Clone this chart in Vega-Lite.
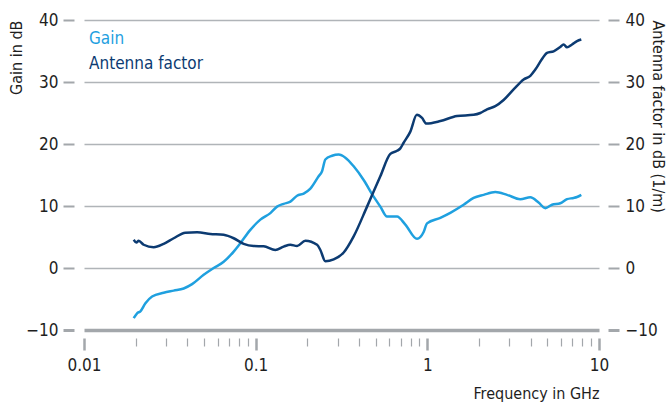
{
  "$schema": "https://vega.github.io/schema/vega-lite/v6.json",
  "width": 515,
  "height": 310,
  "autosize": {"type": "none"},
  "padding": {"left": 84, "top": 20, "right": 73, "bottom": 73},
  "background": "white",
  "config": {
    "view": {"stroke": null},
    "font": "DejaVu Sans Condensed, Roboto, sans-serif",
    "axis": {
      "labelFont": "DejaVu Sans Condensed, Roboto, sans-serif",
      "titleFont": "DejaVu Sans Condensed, Roboto, sans-serif",
      "labelColor": "#1e1e1e",
      "titleColor": "#1e1e1e",
      "titleFontWeight": "normal",
      "labelFontSize": 17,
      "titleFontSize": 16,
      "domain": false
    },
    "legend": {"labelFont": "DejaVu Sans Condensed, Roboto, sans-serif"}
  },
  "datasets": {
    "gain": [
      {"f": 0.01948, "v": -8.1, "s": "Gain"},
      {"f": 0.02038, "v": -7.3, "s": "Gain"},
      {"f": 0.02131, "v": -7.0, "s": "Gain"},
      {"f": 0.02279, "v": -5.7, "s": "Gain"},
      {"f": 0.02493, "v": -4.6, "s": "Gain"},
      {"f": 0.02912, "v": -4.0, "s": "Gain"},
      {"f": 0.0333, "v": -3.65, "s": "Gain"},
      {"f": 0.03808, "v": -3.3, "s": "Gain"},
      {"f": 0.04262, "v": -2.6, "s": "Gain"},
      {"f": 0.0498, "v": -1.1, "s": "Gain"},
      {"f": 0.05693, "v": 0.0, "s": "Gain"},
      {"f": 0.06511, "v": 1.0, "s": "Gain"},
      {"f": 0.07446, "v": 2.65, "s": "Gain"},
      {"f": 0.08145, "v": 4.0, "s": "Gain"},
      {"f": 0.09313, "v": 6.15, "s": "Gain"},
      {"f": 0.1065, "v": 7.8, "s": "Gain"},
      {"f": 0.1218, "v": 8.85, "s": "Gain"},
      {"f": 0.1332, "v": 9.9, "s": "Gain"},
      {"f": 0.1456, "v": 10.35, "s": "Gain"},
      {"f": 0.1593, "v": 10.7, "s": "Gain"},
      {"f": 0.1742, "v": 11.65, "s": "Gain"},
      {"f": 0.1904, "v": 12.0, "s": "Gain"},
      {"f": 0.2083, "v": 12.8, "s": "Gain"},
      {"f": 0.2327, "v": 14.8, "s": "Gain"},
      {"f": 0.2436, "v": 15.6, "s": "Gain"},
      {"f": 0.2546, "v": 17.5, "s": "Gain"},
      {"f": 0.2786, "v": 18.1, "s": "Gain"},
      {"f": 0.3044, "v": 18.3, "s": "Gain"},
      {"f": 0.3331, "v": 17.8, "s": "Gain"},
      {"f": 0.3723, "v": 16.4, "s": "Gain"},
      {"f": 0.4256, "v": 14.2, "s": "Gain"},
      {"f": 0.4868, "v": 11.5, "s": "Gain"},
      {"f": 0.5323, "v": 9.9, "s": "Gain"},
      {"f": 0.5825, "v": 8.3, "s": "Gain"},
      {"f": 0.6661, "v": 8.3, "s": "Gain"},
      {"f": 0.7446, "v": 7.0, "s": "Gain"},
      {"f": 0.871, "v": 4.7, "s": "Gain"},
      {"f": 0.9517, "v": 5.8, "s": "Gain"},
      {"f": 0.996, "v": 7.2, "s": "Gain"},
      {"f": 1.191, "v": 8.1, "s": "Gain"},
      {"f": 1.361, "v": 8.9, "s": "Gain"},
      {"f": 1.627, "v": 10.2, "s": "Gain"},
      {"f": 1.861, "v": 11.3, "s": "Gain"},
      {"f": 2.128, "v": 11.8, "s": "Gain"},
      {"f": 2.489, "v": 12.25, "s": "Gain"},
      {"f": 2.912, "v": 11.8, "s": "Gain"},
      {"f": 3.48, "v": 11.1, "s": "Gain"},
      {"f": 3.981, "v": 11.4, "s": "Gain"},
      {"f": 4.447, "v": 10.55, "s": "Gain"},
      {"f": 4.866, "v": 9.65, "s": "Gain"},
      {"f": 5.323, "v": 10.2, "s": "Gain"},
      {"f": 5.951, "v": 10.45, "s": "Gain"},
      {"f": 6.511, "v": 11.1, "s": "Gain"},
      {"f": 7.114, "v": 11.3, "s": "Gain"},
      {"f": 7.446, "v": 11.45, "s": "Gain"},
      {"f": 7.886, "v": 11.8, "s": "Gain"}
    ],
    "af": [
      {"f": 0.01948, "v": 4.55, "s": "Antenna factor"},
      {"f": 0.02019, "v": 4.1, "s": "Antenna factor"},
      {"f": 0.02083, "v": 4.4, "s": "Antenna factor"},
      {"f": 0.02227, "v": 3.75, "s": "Antenna factor"},
      {"f": 0.02546, "v": 3.35, "s": "Antenna factor"},
      {"f": 0.02912, "v": 3.9, "s": "Antenna factor"},
      {"f": 0.0333, "v": 4.8, "s": "Antenna factor"},
      {"f": 0.03896, "v": 5.7, "s": "Antenna factor"},
      {"f": 0.04558, "v": 5.75, "s": "Antenna factor"},
      {"f": 0.05446, "v": 5.5, "s": "Antenna factor"},
      {"f": 0.06511, "v": 5.35, "s": "Antenna factor"},
      {"f": 0.07446, "v": 4.8, "s": "Antenna factor"},
      {"f": 0.08514, "v": 3.9, "s": "Antenna factor"},
      {"f": 0.09736, "v": 3.55, "s": "Antenna factor"},
      {"f": 0.1113, "v": 3.5, "s": "Antenna factor"},
      {"f": 0.1302, "v": 2.9, "s": "Antenna factor"},
      {"f": 0.1456, "v": 3.45, "s": "Antenna factor"},
      {"f": 0.1593, "v": 3.75, "s": "Antenna factor"},
      {"f": 0.1742, "v": 3.55, "s": "Antenna factor"},
      {"f": 0.1948, "v": 4.4, "s": "Antenna factor"},
      {"f": 0.2279, "v": 3.75, "s": "Antenna factor"},
      {"f": 0.2382, "v": 2.9, "s": "Antenna factor"},
      {"f": 0.2546, "v": 1.1, "s": "Antenna factor"},
      {"f": 0.2847, "v": 1.4, "s": "Antenna factor"},
      {"f": 0.3256, "v": 2.5, "s": "Antenna factor"},
      {"f": 0.3723, "v": 5.1, "s": "Antenna factor"},
      {"f": 0.4455, "v": 9.9, "s": "Antenna factor"},
      {"f": 0.5323, "v": 14.8, "s": "Antenna factor"},
      {"f": 0.6088, "v": 18.4, "s": "Antenna factor"},
      {"f": 0.6661, "v": 18.9, "s": "Antenna factor"},
      {"f": 0.6962, "v": 19.3, "s": "Antenna factor"},
      {"f": 0.7278, "v": 20.2, "s": "Antenna factor"},
      {"f": 0.7962, "v": 22.0, "s": "Antenna factor"},
      {"f": 0.8687, "v": 24.7, "s": "Antenna factor"},
      {"f": 0.9313, "v": 24.2, "s": "Antenna factor"},
      {"f": 0.9867, "v": 23.3, "s": "Antenna factor"},
      {"f": 1.191, "v": 23.7, "s": "Antenna factor"},
      {"f": 1.489, "v": 24.5, "s": "Antenna factor"},
      {"f": 1.861, "v": 24.7, "s": "Antenna factor"},
      {"f": 2.035, "v": 25.0, "s": "Antenna factor"},
      {"f": 2.227, "v": 25.6, "s": "Antenna factor"},
      {"f": 2.489, "v": 26.1, "s": "Antenna factor"},
      {"f": 2.782, "v": 27.1, "s": "Antenna factor"},
      {"f": 3.181, "v": 28.8, "s": "Antenna factor"},
      {"f": 3.638, "v": 30.4, "s": "Antenna factor"},
      {"f": 3.981, "v": 31.0, "s": "Antenna factor"},
      {"f": 4.256, "v": 32.0, "s": "Antenna factor"},
      {"f": 4.656, "v": 33.7, "s": "Antenna factor"},
      {"f": 4.98, "v": 34.7, "s": "Antenna factor"},
      {"f": 5.441, "v": 34.95, "s": "Antenna factor"},
      {"f": 5.951, "v": 35.65, "s": "Antenna factor"},
      {"f": 6.221, "v": 36.05, "s": "Antenna factor"},
      {"f": 6.511, "v": 35.6, "s": "Antenna factor"},
      {"f": 6.963, "v": 36.05, "s": "Antenna factor"},
      {"f": 7.446, "v": 36.6, "s": "Antenna factor"},
      {"f": 7.886, "v": 36.85, "s": "Antenna factor"}
    ]
  },
  "encoding": {
    "x": {
      "field": "f",
      "type": "quantitative",
      "scale": {"type": "log", "domain": [0.01, 10], "nice": false},
      "axis": {
        "orient": "bottom",
        "title": "Frequency in GHz",
        "titleAnchor": "end",
        "titlePadding": 12,
        "grid": false,
        "offset": 8,
        "values": [0.01, 0.02, 0.03, 0.04, 0.05, 0.06, 0.07, 0.08, 0.09, 0.1, 0.2, 0.3, 0.4, 0.5, 0.6, 0.7, 0.8, 0.9, 1, 2, 3, 4, 5, 6, 7, 8, 9, 10],
        "format": "~g",
        "labelExpr": "abs(log(datum.value)/LN10 - round(log(datum.value)/LN10)) < 0.000001 ? datum.label : ''",
        "tickColor": "#a3a7ab",
        "tickSize": {"condition": {"test": "abs(log(datum.value)/LN10 - round(log(datum.value)/LN10)) < 0.000001", "value": 12}, "value": 8},
        "tickWidth": {"condition": {"test": "abs(log(datum.value)/LN10 - round(log(datum.value)/LN10)) < 0.000001", "value": 2.5}, "value": 1.2},
        "labelPadding": 7,
        "labelFlush": false
      }
    },
    "color": {
      "field": "s",
      "type": "nominal",
      "scale": {"domain": ["Gain", "Antenna factor"], "range": ["#1fa0df", "#0c3b72"]},
      "legend": {
        "title": null,
        "orient": "none",
        "legendX": -12,
        "legendY": 10,
        "labelFontSize": 17,
        "symbolSize": 0,
        "symbolStrokeWidth": 0,
        "symbolOpacity": 0,
        "labelOffset": 0,
        "rowPadding": 7,
        "encode": {"labels": {"update": {"fill": {"scale": "color", "field": "value"}}}}
      }
    }
  },
  "layer": [
    {
      "data": {"name": "gain"},
      "mark": {"type": "line", "strokeWidth": 2.5, "interpolate": "monotone"},
      "encoding": {
        "y": {
          "field": "v",
          "type": "quantitative",
          "scale": {"domain": [-10, 40], "nice": false},
          "axis": {
            "orient": "left",
            "title": "Gain in dB",
            "titleAnchor": "end",
            "titlePadding": 1,
            "values": [-10, 0, 10, 20, 30, 40],
            "offset": 10,
            "tickSize": 11,
            "tickColor": "#a3a7ab",
            "tickWidth": {"condition": {"test": "datum.value === -10", "value": 3}, "value": 2},
            "grid": true,
            "gridColor": {"condition": {"test": "datum.value === -10", "value": "#a3a7ab"}, "value": "#b0b4b8"},
            "gridWidth": {"condition": {"test": "datum.value === -10", "value": 3.5}, "value": 1.5},
            "labelPadding": 5
          }
        }
      }
    },
    {
      "data": {"name": "af"},
      "mark": {"type": "line", "strokeWidth": 2.5, "interpolate": "monotone"},
      "encoding": {
        "y": {
          "field": "v",
          "type": "quantitative",
          "scale": {"domain": [-10, 40], "nice": false},
          "axis": {
            "orient": "right",
            "title": "Antenna factor in dB (1/m)",
            "titleAnchor": "end",
            "titleAlign": "left",
            "titlePadding": -8,
            "values": [-10, 0, 10, 20, 30, 40],
            "offset": 9,
            "tickSize": 11,
            "tickColor": "#a3a7ab",
            "tickWidth": {"condition": {"test": "datum.value === -10", "value": 3}, "value": 2},
            "grid": false,
            "labelPadding": 6
          }
        }
      }
    }
  ],
  "resolve": {"scale": {"y": "independent"}}
}
